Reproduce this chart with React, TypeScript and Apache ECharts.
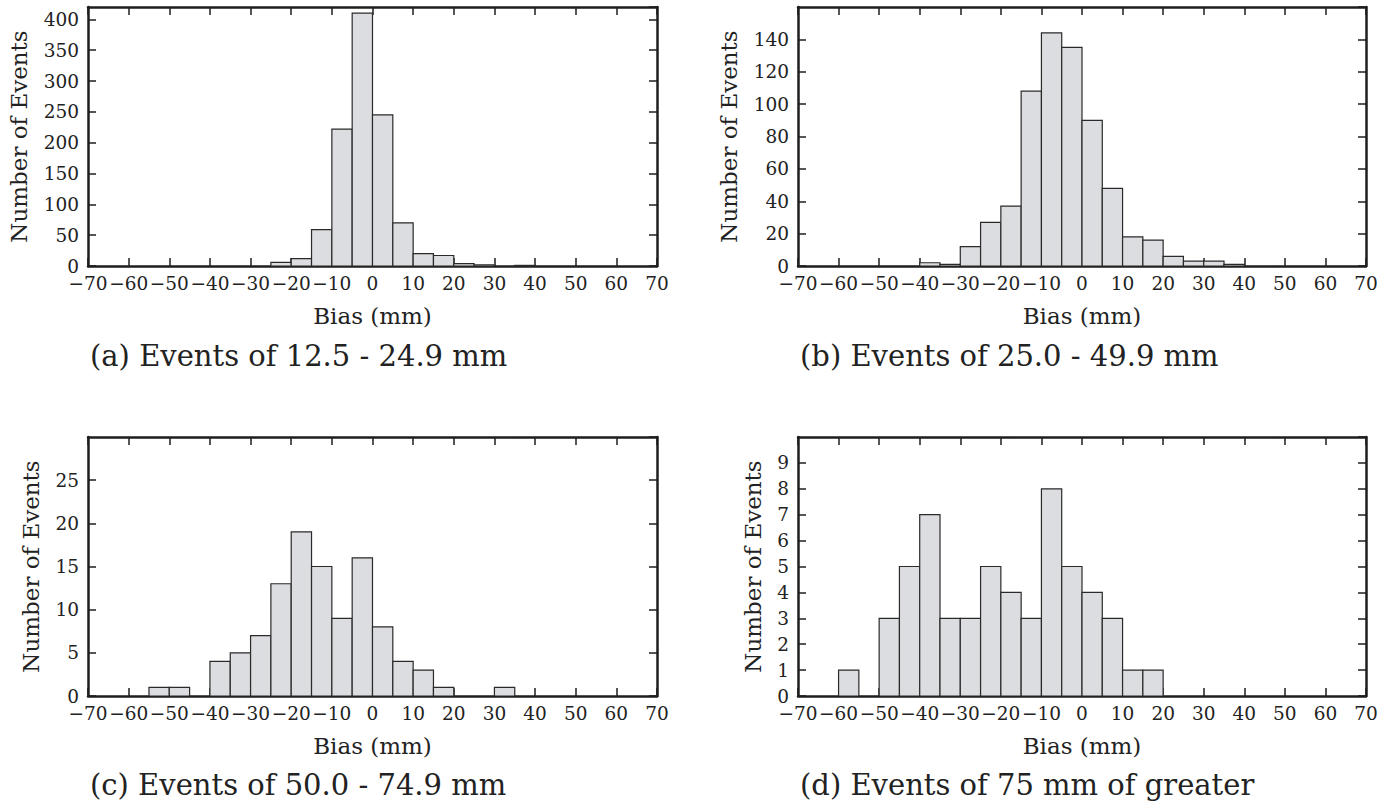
import React, { useEffect, useRef } from "react";
import * as echarts from "echarts";

const binEdgesStart = [-70, -65, -60, -55, -50, -45, -40, -35, -30, -25, -20, -15, -10, -5, 0, 5, 10, 15, 20, 25, 30, 35, 40, 45, 50, 55, 60, 65];
const binWidth = 5;

const countsA = [0, 0, 0, 0, 0, 0, 0, 0, 0, 6, 12, 59, 222, 410, 245, 70, 20, 17, 4, 2, 0, 1, 0, 0, 0, 0, 0, 0];
const countsB = [0, 0, 0, 0, 0, 0, 2, 1, 12, 27, 37, 108, 144, 135, 90, 48, 18, 16, 6, 3, 3, 1, 0, 0, 0, 0, 0, 0];
const countsC = [0, 0, 0, 1, 1, 0, 4, 5, 7, 13, 19, 15, 9, 16, 8, 4, 3, 1, 0, 0, 1, 0, 0, 0, 0, 0, 0, 0];
const countsD = [0, 0, 1, 0, 3, 5, 7, 3, 3, 5, 4, 3, 8, 5, 4, 3, 1, 1, 0, 0, 0, 0, 0, 0, 0, 0, 0, 0];

const panelTitles = [
  "(a) Events of 12.5 - 24.9 mm",
  "(b) Events of 25.0 - 49.9 mm",
  "(c) Events of 50.0 - 74.9 mm",
  "(d) Events of 75 mm of greater",
];
const yMaxes = [420, 160, 30, 10];
const yIntervals = [50, 20, 5, 1];
const yNameGaps = [58, 58, 46, 34];
const xName = "Bias (mm)";
const yName = "Number of Events";

const FONT = "DejaVu Serif";
const TEXT = "#222";
const FRAME = "#1e1e1e";

export default function App() {
  const ref = useRef<HTMLDivElement>(null);
  useEffect(() => {
    if (!ref.current) return;
    const chart = echarts.init(ref.current, null, { renderer: "svg" });
    const allCounts = [countsA, countsB, countsC, countsD];
    const grids = [
      { left: 88, top: 7, width: 569, height: 259 },
      { left: 798, top: 7, width: 568, height: 259 },
      { left: 88, top: 437, width: 569, height: 259 },
      { left: 798, top: 437, width: 568, height: 259 },
    ];
    const xAxes: any[] = [];
    const yAxes: any[] = [];
    const series: any[] = [];
    const fmtX = (v: number) => (v < 0 ? "\u2212" + Math.abs(v) : String(v));
    grids.forEach((g, i) => {
      const lineStyle = { color: FRAME, width: 2.5 };
      const tick = { show: true, inside: true, length: 8, lineStyle: { color: FRAME, width: 1.5 } };
      xAxes.push({
        type: "value", gridIndex: i, position: "bottom", min: -70, max: 70, interval: 10,
        axisLine: { show: true, onZero: false, lineStyle },
        axisTick: tick,
        splitLine: { show: false },
        axisLabel: { formatter: fmtX, fontFamily: FONT, fontSize: 18.5, color: TEXT, margin: 8 },
        name: xName, nameLocation: "middle", nameGap: 38,
        nameTextStyle: { fontFamily: FONT, fontSize: 23, color: TEXT },
      });
      xAxes.push({
        type: "value", gridIndex: i, position: "top", min: -70, max: 70, interval: 10,
        axisLine: { show: true, onZero: false, lineStyle },
        axisTick: tick,
        splitLine: { show: false },
        axisLabel: { show: false },
      });
      yAxes.push({
        type: "value", gridIndex: i, position: "left", min: 0, max: yMaxes[i], interval: yIntervals[i],
        axisLine: { show: true, onZero: false, lineStyle },
        axisTick: tick,
        splitLine: { show: false },
        axisLabel: { fontFamily: FONT, fontSize: 18.5, color: TEXT, margin: 9, showMaxLabel: false, formatter: (v: number) => (v === yMaxes[i] ? "" : String(v)) },
        name: yName, nameLocation: "middle", nameGap: yNameGaps[i],
        nameTextStyle: { fontFamily: FONT, fontSize: 23, color: TEXT },
      });
      yAxes.push({
        type: "value", gridIndex: i, position: "right", min: 0, max: yMaxes[i], interval: yIntervals[i],
        axisLine: { show: true, onZero: false, lineStyle },
        axisTick: tick,
        splitLine: { show: false },
        axisLabel: { show: false },
      });
      const data = binEdgesStart.map((s, k) => [s, s + binWidth, allCounts[i][k]]);
      series.push({
        type: "custom",
        xAxisIndex: i * 2,
        yAxisIndex: i * 2,
        data,
        encode: { x: [0, 1], y: 2 },
        z: 1,
        renderItem: (params: any, api: any) => {
          const x0 = api.value(0);
          const x1 = api.value(1);
          const c = api.value(2);
          if (!c) return null;
          const p0 = api.coord([x0, c]);
          const p1 = api.coord([x1, 0]);
          return {
            type: "rect",
            shape: { x: p0[0], y: p0[1], width: p1[0] - p0[0], height: p1[1] - p0[1] },
            style: { fill: "#dcdde0", stroke: "#2a2a2a", lineWidth: 1.2 },
          };
        },
      });
    });
    const titlePos = [
      [90, 358],
      [800, 358],
      [90, 787],
      [800, 787],
    ];
    const graphic = panelTitles.map((t, i) => ({
      type: "text",
      left: titlePos[i][0],
      top: titlePos[i][1] - 17,
      style: { text: t, font: `29px "${FONT}"`, fill: TEXT },
    }));
    chart.setOption({
      animation: false,
      backgroundColor: "#ffffff",
      grid: grids.map((g) => ({ ...g, containLabel: false })),
      xAxis: xAxes,
      yAxis: yAxes,
      series,
      graphic,
    });
    return () => chart.dispose();
  }, []);
  return (
    <div
      ref={ref}
      style={{ position: "fixed", left: 0, top: 0, width: 1394, height: 807, background: "#fff" }}
    />
  );
}
